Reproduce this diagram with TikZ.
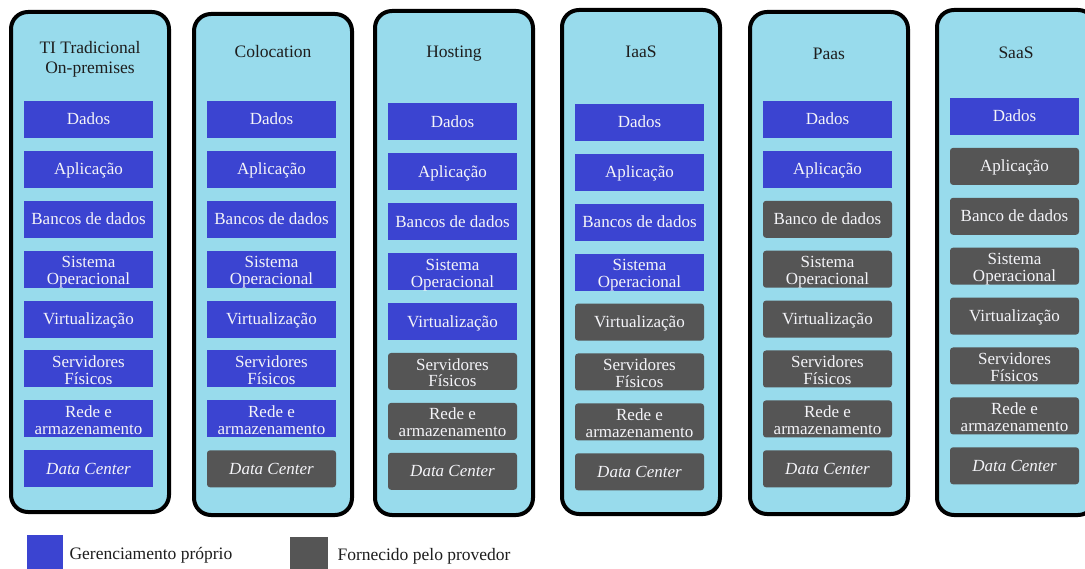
\documentclass[tikz,border=0pt]{standalone}
\usepackage{fontspec}
\setmainfont{Liberation Serif}
\definecolor{ownblue}{RGB}{59,68,209}
\definecolor{provgray}{RGB}{85,85,85}
\definecolor{colbg}{RGB}{152,219,236}
\definecolor{boxtext}{RGB}{244,244,248}
\definecolor{titletext}{RGB}{30,30,30}
\tikzset{
  colbox/.style={draw=black, line width=4pt, fill=colbg, rounded corners=17pt},
  layer/.style={minimum width=129pt, minimum height=37pt, inner sep=0pt, align=center,
    text=boxtext, font=\fontsize{17}{17}\selectfont},
  oneline/.style={text height=12.5pt, text depth=1.5pt},
  twoline/.style={text height=31pt, text depth=0pt},
  own/.style={layer, fill=ownblue},
  prov/.style={layer, fill=provgray, rounded corners=3pt},
  coltitle/.style={align=center, anchor=base, text=titletext, font=\fontsize{17.5}{20}\selectfont},
  legtext/.style={anchor=west, text=titletext, font=\fontsize{17.5}{19}\selectfont},
}
\begin{document}
\begin{tikzpicture}[x=1pt,y=-1pt]
\clip (0,0) rectangle (1085,569);
\fill[white] (0,0) rectangle (1085,569);
\foreach \i/\L/\T/\B/\D/\n/\ty/\ttl in {
  1/9/10/514/101/8/73.5/{TI Tradicional\\On-premises},
  2/192/12/517/101/7/57.5/{Colocation},
  3/373/9/517/103.5/5/57.5/{Hosting},
  4/560/8/516/104/4/57.5/{IaaS},
  5/748/10/516/101/2/60/{Paas},
  6/935/8/517/98/1/58.5/{SaaS}}{
  \draw[colbox] (\L+2,\T+2) rectangle (\L+160,\B-2);
  \node[coltitle] (t\i) at (\L+81,\ty) {\ttl};
  \ifnum\i>4 \def\bd{Banco de dados}\else\def\bd{Bancos de dados}\fi
  \foreach \j/\txt/\ls in {1/Dados/oneline,2/Aplicação/oneline,3/\bd/oneline,
      4/{Sistema\\Operacional}/twoline,5/Virtualização/oneline,
      6/{Servidores\\Físicos}/twoline,7/{Rede e\\armazenamento}/twoline,
      8/{\itshape Data Center}/oneline}{
    \ifnum\j>\n \tikzset{cur/.style={prov}}\else\tikzset{cur/.style={own}}\fi
    \node[cur,\ls] (c\i b\j) at (\L+79.5,\D+\j*49.9-31.4) {\txt};
  }
}
\fill[ownblue] (27,535) rectangle (63,572);
\node[legtext] (lg1) at (66,555) {Gerenciamento próprio};
\fill[provgray] (290,537) rectangle (328,572);
\node[legtext] (lg2) at (334,556) {Fornecido pelo provedor};
\end{tikzpicture}
\end{document}
